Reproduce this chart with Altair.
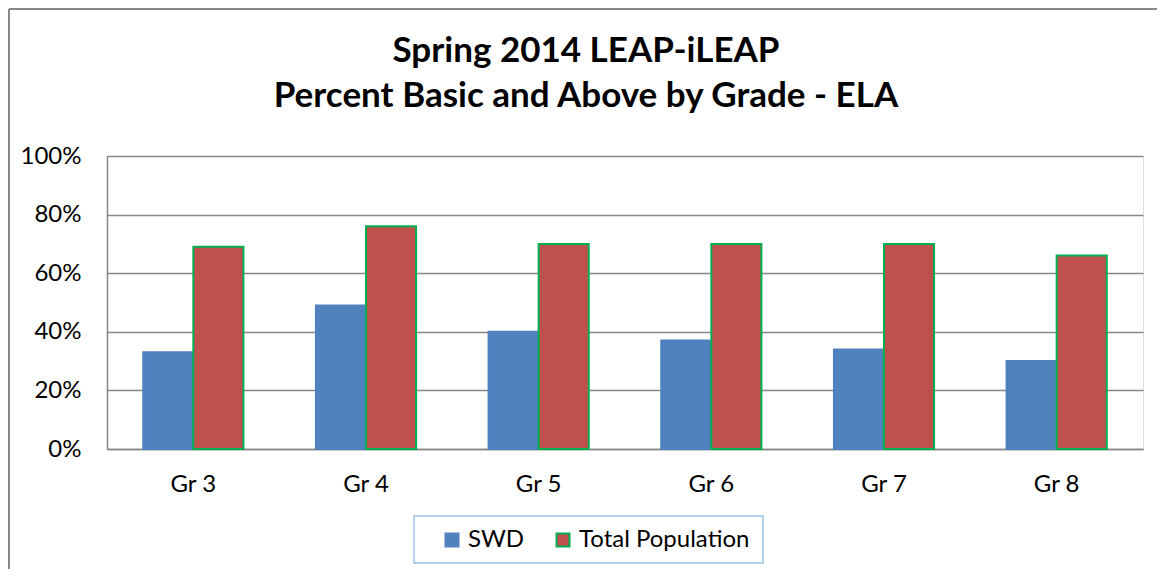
import altair as alt
import pandas as pd

grades = ["Gr 3", "Gr 4", "Gr 5", "Gr 6", "Gr 7", "Gr 8"]
series = ["SWD", "Total Population"]
swd = [0.33, 0.49, 0.40, 0.37, 0.34, 0.30]
total = [0.69, 0.76, 0.70, 0.70, 0.70, 0.66]
y_ticks = [0, 0.2, 0.4, 0.6, 0.8, 1.0]
title_lines = ["Spring 2014 LEAP-iLEAP", "Percent Basic and Above by Grade - ELA"]

rows = []
for g, a, b in zip(grades, swd, total):
    rows.append({"grade": g, "series": series[0], "value": a})
    rows.append({"grade": g, "series": series[1], "value": b})
df = pd.DataFrame(rows)

FONT = "Lato"
GRID = "#878787"

leg = dict(orient="none", legendX=333, legendY=372, direction="horizontal", title=None,
           symbolType="square", symbolSize=169, symbolStrokeWidth=2, labelFontSize=24,
           labelFont=FONT, labelColor="black", columnPadding=26, labelOffset=4, padding=0,
           labelLimit=0)

bars = alt.Chart(df).mark_bar(strokeWidth=2).encode(
    x=alt.X("grade:N", sort=grades,
            scale=alt.Scale(paddingInner=0.42, paddingOuter=0.21),
            axis=alt.Axis(title=None, labelAngle=0, tickSize=0, labelPadding=23,
                          labelFontSize=24, labelFont=FONT, labelColor="black",
                          domainColor=GRID, domainWidth=1.5, grid=False)),
    xOffset=alt.XOffset("series:N", sort=series, scale=alt.Scale(paddingInner=0, paddingOuter=0)),
    y=alt.Y("value:Q", scale=alt.Scale(domain=[0, 1], nice=False),
            axis=alt.Axis(title=None, values=y_ticks, format=".0%", tickSize=0,
                          labelPadding=26, labelFontSize=24, labelFont=FONT,
                          labelColor="black", domainColor=GRID, domainWidth=1.5,
                          gridColor=GRID, gridWidth=1.5)),
    color=alt.Color("series:N", sort=series,
                    scale=alt.Scale(domain=series, range=["#4F81BD", "#C0504D"]),
                    legend=alt.Legend(**leg)),
    stroke=alt.Stroke("series:N", sort=series,
                      scale=alt.Scale(domain=series, range=["#4F81BD", "#00B050"]),
                      legend=alt.Legend(**leg)),
)

one = pd.DataFrame({"a": [0]})
legend_box = alt.Chart(one).mark_rect(fill="white", stroke="#9DC3E6", strokeWidth=1.5).encode(
    x=alt.value(307), x2=alt.value(656), y=alt.value(360), y2=alt.value(407)
)
frame_left = alt.Chart(one).mark_rule(color="#888888", strokeWidth=2).encode(
    x=alt.value(-98), y=alt.value(-147), y2=alt.value(413)
)
frame_top = alt.Chart(one).mark_rule(color="#888888", strokeWidth=2).encode(
    x=alt.value(-98), x2=alt.value(1050), y=alt.value(-147)
)

title_df = pd.DataFrame({"line": title_lines, "ypos": [-94, -49]})
title = alt.Chart(title_df).mark_text(
    font=FONT, fontSize=35, fontWeight="bold", color="black",
    align="center", baseline="alphabetic"
).encode(
    text="line:N", x=alt.value(479), y=alt.Y("ypos:Q", scale=None)
)

chart = alt.layer(frame_left, frame_top, legend_box, bars, title).properties(
    width=1036,
    height=293,
    padding={"left": 99, "top": 148, "right": 14, "bottom": 120},
    autosize=alt.AutoSizeParams(type="none"),
).configure_view(stroke=None).configure(background="white")

chart.save("out.html", embed_options={"renderer": "svg", "actions": False})
